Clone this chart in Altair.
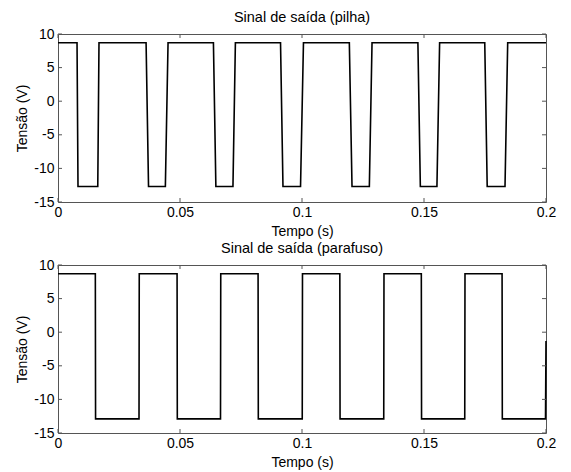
import altair as alt
import pandas as pd

# Top panel (pilha): edge times and voltage levels
top_t = [0.0, 0.0078, 0.0082, 0.0163, 0.0168, 0.0361, 0.0371, 0.0440, 0.0451,
         0.0637, 0.0647, 0.0717, 0.0727, 0.0912, 0.0922, 0.0994, 0.1006,
         0.1194, 0.1205, 0.1276, 0.1287, 0.1475, 0.1485, 0.1553, 0.1564,
         0.1749, 0.1759, 0.1832, 0.1843, 0.2]
top_v = [8.7, 8.7, -12.7, -12.7, 8.7, 8.7, -12.7, -12.7, 8.7,
         8.7, -12.7, -12.7, 8.7, 8.7, -12.7, -12.7, 8.7,
         8.7, -12.7, -12.7, 8.7, 8.7, -12.7, -12.7, 8.7,
         8.7, -12.7, -12.7, 8.7, 8.7]

# Bottom panel (parafuso)
bot_t = [0.0, 0.0153, 0.0154, 0.0332, 0.0333, 0.0488, 0.0489, 0.0666, 0.0667,
         0.0820, 0.0821, 0.1001, 0.1002, 0.1155, 0.1156, 0.1335, 0.1336,
         0.1489, 0.1490, 0.1667, 0.1668, 0.1820, 0.1821, 0.1998, 0.2]
bot_v = [8.7, 8.7, -12.9, -12.9, 8.7, 8.7, -12.9, -12.9, 8.7,
         8.7, -12.9, -12.9, 8.7, 8.7, -12.9, -12.9, 8.7,
         8.7, -12.9, -12.9, 8.7, 8.7, -12.9, -12.9, -1.3]

x_ticks = [0, 0.05, 0.1, 0.15, 0.2]
y_ticks = [-15, -10, -5, 0, 5, 10]

W, H = 488, 168
FONT = "Liberation Sans"
BOX = "#555555"

X_AXIS = alt.Axis(values=x_ticks, title="Tempo (s)", format="~g",
                  tickSize=0, labelPadding=3, domain=False, grid=False,
                  labelFlush=False, labelOverlap=False,
                  titleFontSize=14, titlePadding=5)
Y_AXIS = alt.Axis(values=y_ticks, title="Tensão (V)",
                  labelExpr="datum.value < 0 ? '-' + abs(datum.value) : '' + datum.value",
                  tickSize=0, labelPadding=4, domain=False, grid=False,
                  labelFlush=False, labelOverlap=False,
                  titleFontSize=14, titlePadding=4)


def panel(t, v, title):
    df = pd.DataFrame({"t": t, "v": v})
    xs = alt.Scale(domain=[0, 0.2], nice=False, zero=False)
    ys = alt.Scale(domain=[-15, 10], nice=False, zero=False)
    line = alt.Chart(df).mark_line(color="black", strokeWidth=1.6).encode(
        x=alt.X("t:Q", scale=xs, axis=X_AXIS),
        y=alt.Y("v:Q", scale=ys, axis=Y_AXIS),
    )
    xt = pd.DataFrame({"t": x_ticks})
    yt = pd.DataFrame({"v": y_ticks})
    xb = alt.Chart(xt).mark_rule(color=BOX).encode(
        x=alt.X("t:Q", scale=xs, axis=X_AXIS), y=alt.value(H), y2=alt.value(H - 4))
    xtp = alt.Chart(xt).mark_rule(color=BOX).encode(
        x=alt.X("t:Q", scale=xs, axis=X_AXIS), y=alt.value(0), y2=alt.value(4))
    yl = alt.Chart(yt).mark_rule(color=BOX).encode(
        y=alt.Y("v:Q", scale=ys, axis=Y_AXIS), x=alt.value(0), x2=alt.value(4))
    yr = alt.Chart(yt).mark_rule(color=BOX).encode(
        y=alt.Y("v:Q", scale=ys, axis=Y_AXIS), x=alt.value(W - 4), x2=alt.value(W))
    return alt.layer(line, xb, xtp, yl, yr).properties(
        width=W, height=H,
        title=alt.TitleParams(title, fontSize=14.5, font=FONT, fontWeight="normal",
                              offset=2, anchor="middle"))


top = panel(top_t, top_v, "Sinal de saída (pilha)")
bottom = panel(bot_t, bot_v, "Sinal de saída (parafuso)")

chart = alt.vconcat(top, bottom, spacing=1).properties(
    padding={"left": 15, "top": 9, "right": 10, "bottom": 0},
    background="white",
).configure_view(stroke=BOX, strokeWidth=1).configure_axis(
    labelFont=FONT, titleFont=FONT, labelFontSize=14,
    titleFontWeight="normal", labelColor="black", titleColor="black",
    labelOverlap=False, labelFlush=False,
)

chart.save("out.html", embed_options={"renderer": "svg", "actions": False})
